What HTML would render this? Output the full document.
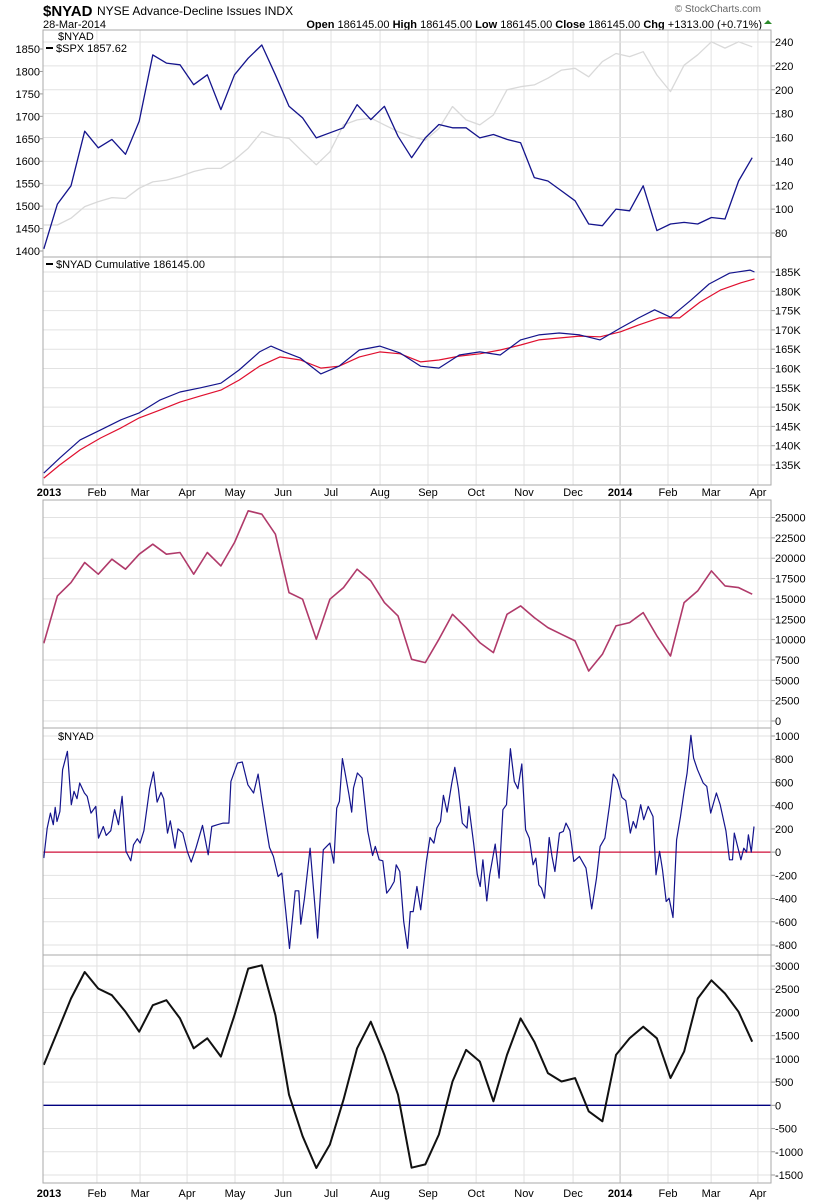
<!DOCTYPE html>
<html><head><meta charset="utf-8">
<style>
body{margin:0;background:#fff;}
svg{display:block;font-family:"Liberation Sans",sans-serif;}
</style></head>
<body>
<svg id="chart" width="820" height="1200" viewBox="0 0 820 1200" xmlns="http://www.w3.org/2000/svg">
<text x="43" y="16" font-size="15" font-weight="bold">$NYAD</text>
<text x="97" y="15" font-size="12">NYSE Advance-Decline Issues  INDX</text>
<text x="43" y="28" font-size="11">28-Mar-2014</text>
<text x="761" y="12" font-size="10" fill="#666" text-anchor="end">© StockCharts.com</text>
<text x="762" y="28" font-size="11" text-anchor="end"><tspan font-weight="bold">Open</tspan> 186145.00  <tspan font-weight="bold">High</tspan> 186145.00  <tspan font-weight="bold">Low</tspan> 186145.00  <tspan font-weight="bold">Close</tspan> 186145.00  <tspan font-weight="bold">Chg</tspan> +1313.00 (+0.71%)</text>
<path d="M764 24 L768 20 L772 24 Z" fill="#2a8a2a"/>
<g id="grid"></g>
<g id="series"></g>
<g id="frames"></g>
</svg>
<script>
// ---------- data ----------
const monthLabels = ["2013","Feb","Mar","Apr","May","Jun","Jul","Aug","Sep","Oct","Nov","Dec","2014","Feb","Mar","Apr"];
const monthDays = [1.4,23.4,42.4,63.1,84.2,105.4,126.5,148.1,169.2,190.4,211.5,233.1,253.8,274.9,293.9,314.5];
// uniform samples every 6 trading days
const sampleStep = 6;
const nyadTop = [66.7,104.2,119.5,165.3,151.4,158.4,145.9,173.6,229.2,222.3,220.9,204.2,212.5,183.4,212.5,226.4,237.5,212.5,186.1,176.4,159.7,163.9,168.1,187.5,175,186.1,161.1,143.1,159.7,170.9,168.1,168.1,159.7,162.5,158.4,155.6,126.4,123.6,115.3,107,87.5,86.1,100,98.6,119.5,82,87.5,88.9,87.5,93,91.7,123.6,143.1];
const spx = [1458,1458,1473,1499,1510,1519,1517,1540,1554,1558,1566,1577,1584,1584,1603,1629,1666,1655,1651,1621,1592,1621,1681,1692,1696,1681,1666,1655,1647,1673,1722,1692,1681,1703,1759,1766,1770,1785,1803,1807,1788,1822,1840,1833,1844,1792,1755,1814,1837,1866,1852,1866,1855];
const cumBlueDays = [0,7,16,25,34,42,51,60,69,78,86,95,100,106,113,122,130,139,148,157,166,174,183,192,201,210,218,227,236,245,254,262,269,276,285,293,302,311,313];
const cumBlue = [132.9,136.8,141.5,144.1,146.7,148.5,151.8,153.9,155,156.2,159.6,164.3,165.8,164.3,162.7,158.6,160.6,164.8,165.8,164,160.6,160.1,163.5,164.3,163.5,167.4,168.7,169.2,168.7,167.4,170.5,173.1,175.2,173.3,177.7,181.9,184.7,185.5,185];
const cumRedDays = [0,7,16,25,34,42,51,60,69,78,86,95,104,113,122,130,139,148,157,166,174,183,192,201,210,218,227,236,245,254,262,271,280,289,298,307,313];
const cumRed = [131.6,135,138.9,142,144.6,147.2,149.2,151.3,152.9,154.4,157,160.6,163,162.2,160.1,160.6,163,164.3,163.8,161.7,162.2,163.2,163.8,164.8,166.1,167.4,167.9,168.4,168.2,169.5,171.3,173.1,173.1,177.2,180.3,182.2,183.2];
const breadth = [9548,15368,17007,19466,18031,19875,18646,20490,21719,20490,20695,18031,20695,19056,21924,25817,25408,22949,15777,14958,10040,14958,16392,18646,17212,14548,12909,7581,7172,10040,13114,11474,9630,8401,13114,14138,12704,11474,10655,9835,6147,8196,11679,12089,13319,10450,7991,14548,15982,18441,16597,16392,15572];
const oscDays = [0,1.5,2.9,4.2,5,5.8,7.1,8.3,10.4,12.1,13.3,14.6,15.8,17.9,19.1,20.8,22.9,24.1,26.2,27.5,29.5,31.2,32.9,34.5,36.2,38.3,39.5,41.2,42.4,44.1,46.6,48.3,49.9,51.6,52.8,54.5,55.7,57.8,59.1,61.2,63.2,64.9,67,69.9,72.4,74,76.5,79,81.5,82.4,85.3,87.4,89.9,92.4,94.4,96.1,98.2,99.4,101.1,103.2,104.8,106.5,108.2,110.7,112.3,113.2,114.8,117.3,120.6,123.1,126,127.7,129,130.2,131.5,132.7,134.4,135.6,136.4,138.1,140.2,142.7,144.8,146,147.7,149.3,151,152.7,154.3,155.2,156.8,158.5,160.2,161.4,162.7,164.3,166,168.5,170.1,171.8,173.1,174.7,176,177.6,179.7,181,182.6,184.3,186.4,187.2,189.3,190.9,192.2,193.4,195.1,196.4,198.8,200.5,202.2,203.8,205.5,207.2,208.8,210.5,212.2,213.8,215.5,216.7,218,219.2,220.5,222.6,223.8,225.1,227.1,228.8,230,231.7,233.4,235.9,238.8,241.3,243.4,245,247.1,249.2,250.8,252.5,254.6,256.3,258.3,259.6,260.8,262.9,264.2,266.2,268.3,269.6,271.2,272.5,274.1,275.4,277.1,278.7,280.4,282,283.3,285,286.2,287.9,290.4,292,293.7,296.2,297.9,300.4,302,303.3,304.1,307,308.3,309.5,310.3,311.6,312.8];
const osc = [-52,207,336,236,385,264,350,710,868,408,523,460,595,509,480,336,394,121,221,144,184,365,236,480,6,-75,63,115,78,184,546,690,431,514,460,164,270,34,201,164,6,-86,34,230,-23,221,236,250,250,609,767,776,580,509,672,443,178,40,-37,-210,-181,-497,-830,-333,-333,-621,-397,34,-741,20,78,-95,379,437,805,681,494,345,552,681,638,178,-29,49,-66,-75,-354,-310,-253,-109,-167,-598,-828,-512,-512,-296,-497,-80,126,78,207,264,489,345,595,730,546,250,207,394,78,-195,-296,-66,-420,-195,69,-224,365,408,891,609,546,759,193,121,-109,-52,-282,-310,-397,126,-37,-167,164,178,250,184,-80,-37,-138,-489,-224,49,121,408,672,624,471,443,164,264,207,408,279,394,307,-195,6,-152,-425,-397,-563,106,307,523,681,1006,810,710,595,566,336,509,408,184,-66,-66,164,-66,34,0,149,0,221];
const smooth = [871,1586,2300,2871,2514,2371,2014,1586,2157,2264,1871,1229,1443,1050,1943,2943,3014,1943,229,-664,-1350,-843,121,1229,1800,1086,229,-1343,-1271,-629,514,1193,943,86,1086,1871,1371,693,514,586,-129,-343,1086,1443,1693,1443,586,1157,2300,2693,2407,2014,1371];
const spxTicks = [1850,1800,1750,1700,1650,1600,1550,1500,1450,1400];
const topRightTicks = [240,220,200,180,160,140,120,100,80];
const cumTicks = [185,180,175,170,165,160,155,150,145,140,135];
const breadthTicks = [25000,22500,20000,17500,15000,12500,10000,7500,5000,2500,0];
const oscTicks = [1000,800,600,400,200,0,-200,-400,-600,-800];
const smoothTicks = [3000,2500,2000,1500,1000,500,0,-500,-1000,-1500];

// ---------- scales ----------
const X0 = 43.8, X1 = 754.5, DAYS = 313, PL = 43, PR = 771;
const xDay = d => X0 + d * (X1 - X0) / DAYS;
const lin = (v0, y0, v1, y1) => v => y0 + (v - v0) * (y1 - y0) / (v1 - v0);
const ySpx = lin(1850, 49, 1400, 251);
const yTop = lin(240, 42, 80, 233);
const yCum = lin(185, 272, 135, 465);
const yBr = lin(25000, 517.5, 0, 721);
const yOsc = lin(1000, 736, -800, 945);
const ySm = lin(3000, 966, -1500, 1175);
const panels = [[30,257],[257,485],[500,728],[728,955],[955,1183]];

const NS = "http://www.w3.org/2000/svg";
const gGrid = document.getElementById("grid");
const gSer = document.getElementById("series");
const gFr = document.getElementById("frames");
function mk(tag, attrs, parent) {
  const e = document.createElementNS(NS, tag);
  for (const k in attrs) e.setAttribute(k, attrs[k]);
  parent.appendChild(e);
  return e;
}
panels.forEach(p => {
  monthDays.forEach((d, i) => {
    if (i === 0) return;
    const ln = mk("line", {x1: xDay(d), x2: xDay(d), y1: p[0], y2: p[1], stroke: i === 12 ? "#bbb" : "#e2e2e2", "stroke-width": 1}, gGrid);
    
    
  });
});
function hTicks(ticks, scale, fmt, p, side) {
  ticks.forEach(v => {
    const y = scale(v);
    if (side === "right") {
      const ln = mk("line", {x1: PL, x2: PR, y1: y, y2: y, stroke: "#e2e2e2", "stroke-width": 1}, gGrid);
      
      
      const tk = mk("line", {x1: PR, x2: PR + 4, y1: y, y2: y, stroke: "#999"}, gFr);
      
      
      const t = mk("text", {x: PR + 4, y: y + 4, "font-size": 11}, gFr);
      t.textContent = fmt(v);
      
      
    } else {
      const tk = mk("line", {x1: PL - 3, x2: PL, y1: y, y2: y, stroke: "#999"}, gFr);
      
      
      const t = mk("text", {x: PL - 3, y: y + 4, "font-size": 11, "text-anchor": "end"}, gFr);
      t.textContent = fmt(v);
      
      
    }
  });
}
hTicks(topRightTicks, yTop, v => v, panels[0], "right");
hTicks(spxTicks, ySpx, v => v, panels[0], "left");
hTicks(cumTicks, yCum, v => v + "K", panels[1], "right");
hTicks(breadthTicks, yBr, v => v, panels[2], "right");
hTicks(oscTicks, yOsc, v => v, panels[3], "right");
hTicks(smoothTicks, ySm, v => v, panels[4], "right");

function line(days, vals, scale, color, w, name) {
  const d = vals.map((v, i) => (i ? "L" : "M") + xDay(days[i]).toFixed(1) + " " + scale(v).toFixed(1)).join(" ");
  const p = mk("path", {d: d, fill: "none", stroke: color, "stroke-width": w, "stroke-linejoin": "round"}, gSer);
  
  
}
const uni = arr => arr.map((_, i) => i * sampleStep);
const z1 = mk("line", {x1: PL, x2: PR, y1: yOsc(0), y2: yOsc(0), stroke: "#d0103a", "stroke-width": 1.3}, gSer);


const z2 = mk("line", {x1: PL, x2: PR, y1: ySm(0), y2: ySm(0), stroke: "#000080", "stroke-width": 1.3}, gSer);



line(uni(spx), spx, ySpx, "#d9d9d9", 1.3, "spx-line");
line(uni(nyadTop), nyadTop, yTop, "#14148c", 1.3, "nyad-line");
line(cumRedDays, cumRed, yCum, "#e0102f", 1.2, "cumulative-ma-line");
line(cumBlueDays, cumBlue, yCum, "#14148c", 1.2, "cumulative-line");
line(uni(breadth), breadth, yBr, "#b03a6a", 1.6, "breadth-line");
line(oscDays, osc, yOsc, "#14148c", 1.2, "oscillator-line");
line(uni(smooth), smooth, ySm, "#111", 2, "smoothed-oscillator-line");

panels.forEach(p => {
  const r = mk("rect", {x: PL, y: p[0], width: PR - PL, height: p[1] - p[0], fill: "none", stroke: "#aaa", "stroke-width": 1}, gFr);
  
  
});
[492, 1193].forEach(yy => {
  monthLabels.forEach((m, i) => {
    const t = mk("text", {x: xDay(monthDays[i]) + (i === 0 ? 2 : 0), y: yy + 4, "font-size": 11, "text-anchor": "middle", "font-weight": (i === 0 || i === 12) ? "bold" : "normal"}, gFr);
    t.textContent = m;
    
    
  });
});
function leg(x, y, txt, swatch) {
  if (swatch) {
    const s = mk("line", {x1: x, x2: x + 7, y1: y - 4, y2: y - 4, stroke: "#000", "stroke-width": 2}, gFr);
    
    
  }
  const t = mk("text", {x: x + (swatch ? 10 : 0), y: y, "font-size": 11}, gFr);
  t.textContent = txt;
  
  
}
leg(58, 40, "$NYAD", false);
leg(46, 52, "$SPX 1857.62", true);
leg(46, 268, "$NYAD Cumulative 186145.00", true);
leg(58, 740, "$NYAD", false);
</script>
</body></html>
